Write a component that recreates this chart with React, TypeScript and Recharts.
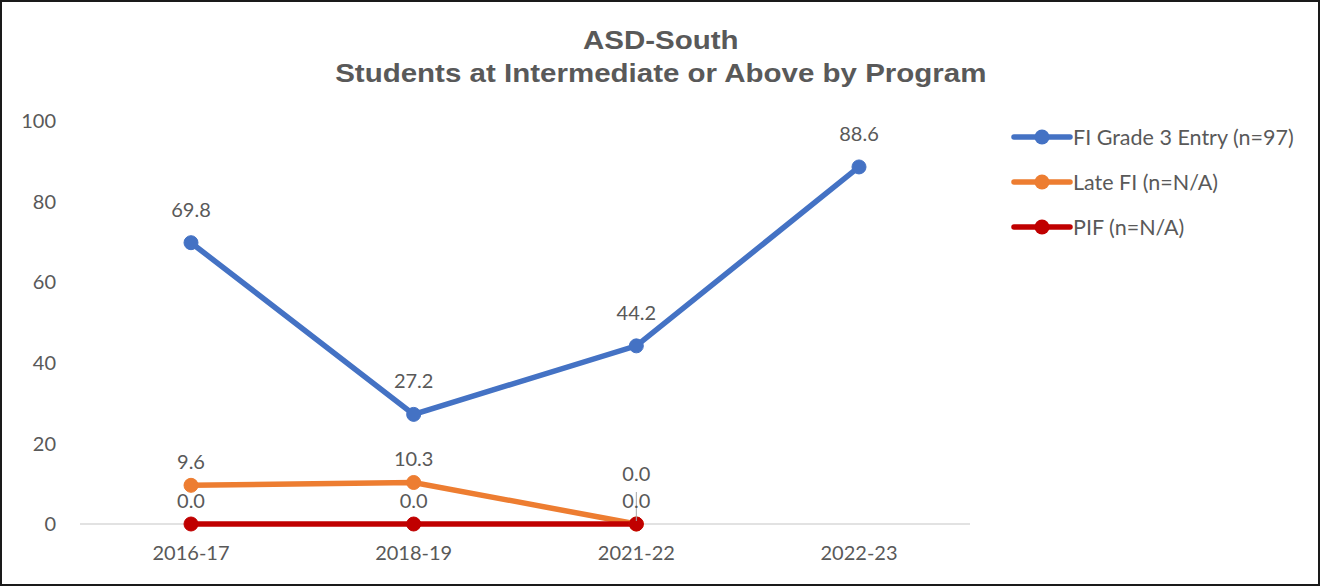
import React from 'react';
import { LineChart, Line, XAxis, YAxis, CartesianGrid } from 'recharts';

const categories = ['2016-17', '2018-19', '2021-22', '2022-23'];
const fiGrade3 = [69.8, 27.2, 44.2, 88.6];
const lateFI = [9.6, 10.3, 0.0, null];
const pif = [0.0, 0.0, 0.0, null];
const yTicks = [0, 20, 40, 60, 80, 100];

const seriesInfo = [
  { key: 'fi', name: 'FI Grade 3 Entry (n=97)', color: '#4472C4' },
  { key: 'late', name: 'Late FI (n=N/A)', color: '#ED7D31' },
  { key: 'pif', name: 'PIF (n=N/A)', color: '#C00000' },
];

const data = categories.map((c, i) => ({
  cat: c,
  fi: fiGrade3[i],
  late: lateFI[i],
  pif: pif[i],
}));

const FONT = 'Lato, "Noto Sans", sans-serif';
const TXT = '#595959';

const makeLabel = (seriesKey: string) => (props: any) => {
  const { x, y, value, index } = props;
  if (value === null || value === undefined) return null;
  const shifted = seriesKey === 'late' && index === 2;
  const gap = seriesKey === 'fi' ? 26 : 16;
  const ty = shifted ? y - 43 : y - gap;
  return (
    <g>
      {shifted && (
        <line x1={x} y1={y - 32} x2={x} y2={y - 3} stroke="#A6A6A6" strokeWidth={1} />
      )}
      <text x={x} y={ty} textAnchor="middle" fontSize={20} fill={TXT} fontFamily={FONT}>
        {Number(value).toFixed(1)}
      </text>
    </g>
  );
};

function ChartLegend() {
  return (
    <div
      style={{
        position: 'absolute',
        left: 1009,
        top: 112,
        fontFamily: FONT,
        fontSize: 21.5,
        color: TXT,
      }}
    >
      {seriesInfo.map((s) => (
        <div key={s.key} style={{ display: 'flex', alignItems: 'center', height: 45 }}>
          <svg width={62} height={18}>
            <line x1={3} y1={9} x2={59} y2={9} stroke={s.color} strokeWidth={5.5} strokeLinecap="round" />
            <circle cx={31} cy={9} r={7.5} fill={s.color} />
          </svg>
          <span>{s.name}</span>
        </div>
      ))}
    </div>
  );
}

export default function App() {
  return (
    <div
      style={{
        position: 'fixed',
        left: 0,
        top: 0,
        width: 1320,
        height: 586,
        background: '#fff',
        boxSizing: 'border-box',
        border: '2px solid #1a1a1a',
        overflow: 'hidden',
      }}
    >
      <div style={{ position: 'absolute', left: -2, top: -2 }}>
        <LineChart
          width={1320}
          height={586}
          data={data}
          margin={{ top: 121, right: 350, bottom: 0, left: 0 }}
        >
          <CartesianGrid
            vertical={false}
            horizontalValues={[0]}
            stroke="#D9D9D9"
            strokeWidth={1.5}
          />
          <XAxis
            dataKey="cat"
            height={62}
            axisLine={false}
            tickLine={false}
            padding={{ left: 111, right: 111 }}
            tick={{ fontSize: 20, fill: TXT, fontFamily: FONT }}
            tickMargin={16}
          />
          <YAxis
            domain={[0, 100]}
            ticks={yTicks}
            width={80}
            axisLine={false}
            tickLine={false}
            tickSize={0}
            tickMargin={24}
            tick={{ fontSize: 20, fill: TXT, fontFamily: FONT }}
          />
          {seriesInfo.map((s) => (
            <Line
              key={s.key}
              dataKey={s.key}
              name={s.name}
              stroke={s.color}
              strokeWidth={5.5}
              dot={{ r: 7, fill: s.color, stroke: s.color, strokeWidth: 1 }}
              activeDot={false}
              isAnimationActive={false}
              label={makeLabel(s.key)}
            />
          ))}
        </LineChart>
      </div>
      <div
        style={{
          position: 'absolute',
          left: 0,
          top: 22,
          width: 1318,
          textAlign: 'center',
          fontFamily: '"Liberation Sans", Arial, sans-serif',
          fontWeight: 'bold',
          fontSize: 25,
          lineHeight: '33px',
          color: TXT,
          transform: 'scaleX(1.18)',
          transformOrigin: '660px 0',
        }}
      >
        <div>ASD-South</div>
        <div>Students at Intermediate or Above by Program</div>
      </div>
      <ChartLegend />
    </div>
  );
}
